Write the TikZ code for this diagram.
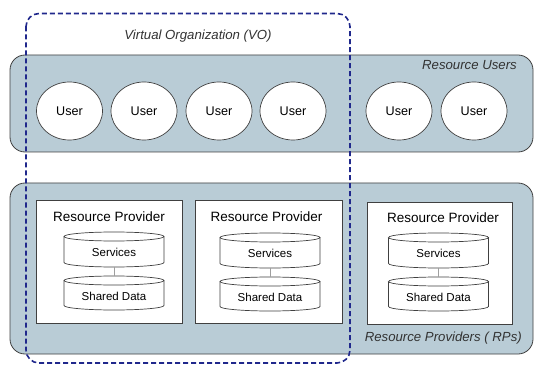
\documentclass[tikz,border=0pt]{standalone}
\usepackage{fontspec}
\setmainfont{Liberation Sans}
\usetikzlibrary{shapes.geometric}
\definecolor{panel}{RGB}{185,204,214}
\definecolor{edge}{RGB}{64,64,64}
\definecolor{vonavy}{RGB}{32,40,140}
\tikzset{
  panelbox/.style={draw=edge,line width=0.8pt,fill=panel,rounded corners=15pt,minimum width=523pt,inner sep=0pt},
  userell/.style={ellipse,draw=edge,line width=0.7pt,fill=white,minimum width=66pt,minimum height=58pt,inner sep=0pt,font=\fontsize{12.6}{14}\selectfont},
  rpbox/.style={draw=edge,line width=0.8pt,fill=white,minimum width=146pt,minimum height=123pt,inner sep=0pt},
  rptitle/.style={inner sep=0pt,font=\fontsize{13.5}{15}\selectfont},
  cyltext/.style={inner sep=0pt,font=\fontsize{11.5}{13}\selectfont},
  cylline/.style={draw=edge,line width=0.7pt,fill=white},
  lbl/.style={inner sep=0pt,font=\fontsize{13.2}{15}\selectfont\itshape,text=black!80},
  vobox/.style={draw=vonavy,line width=1.6pt,dash pattern=on 5pt off 3pt,rounded corners=13pt},
  tick/.style={draw=edge!50,line width=0.3pt}
}
% name, cx, ytop, ybottom, text
\newcommand\mycyl[5]{%
  \filldraw[cylline] (#2-50,#3+4.5) -- (#2-50,#4-4.5) arc[start angle=180,end angle=360,x radius=50pt,y radius=4.5pt] -- (#2+50,#3+4.5);
  \filldraw[cylline] (#2,#3+4.5) ellipse[x radius=50pt,y radius=4.5pt];
  \coordinate (#1-top) at (#2,#3);
  \coordinate (#1-bot) at (#2,#4);
  \node[cyltext] (#1) at (#2,{(#3+#4)/2+3}) {#5};
}
\begin{document}
\begin{tikzpicture}[x=1pt,y=-1pt]
\useasboundingbox (0,0) rectangle (535,366);
% panels
\node[panelbox,minimum height=97pt] (ru) at (271.5,103.5) {};
\node[panelbox,minimum height=171pt] (rp) at (271.5,268.5) {};
\node[lbl,anchor=east] (rulbl) at (517,65) {Resource Users};
\node[lbl,anchor=east] (rplbl) at (522,338) {Resource Providers ( RPs)};
% users
\node[userell] (u1) at (69.5,111) {User};
\node[userell] (u2) at (144,111) {User};
\node[userell] (u3) at (219,111) {User};
\node[userell] (u4) at (293,111) {User};
\node[userell] (u5) at (399,111) {User};
\node[userell] (u6) at (474,111) {User};
% resource provider boxes
\node[rpbox] (b1) at (109,261.5) {};
\node[rpbox,minimum width=147pt] (b2) at (268.5,262) {};
\node[rpbox,minimum width=145pt,minimum height=122pt] (b3) at (439.5,263) {};
\node[rptitle] (t1) at (109,217) {Resource Provider};
\node[rptitle] (t2) at (266.5,217) {Resource Provider};
\node[rptitle] (t3) at (443,218) {Resource Provider};
\mycyl{s1}{114}{232}{267}{Services}
\mycyl{d1}{114}{276}{310}{Shared Data}
\mycyl{s2}{270}{233}{268}{Services}
\mycyl{d2}{270}{277}{311}{Shared Data}
\mycyl{s3}{438.5}{233}{268}{Services}
\mycyl{d3}{438.5}{277}{311}{Shared Data}
\draw[tick] (s1-bot) -- (d1-top);
\draw[tick] (s2-bot) -- (d2-top);
\draw[tick] (s3-bot) -- (d3-top);
% virtual organization
\node[lbl] (volbl) at (198,36) {Virtual Organization (VO)};
\draw[vobox] (26,13.5) rectangle (350,363);
\end{tikzpicture}
\end{document}
